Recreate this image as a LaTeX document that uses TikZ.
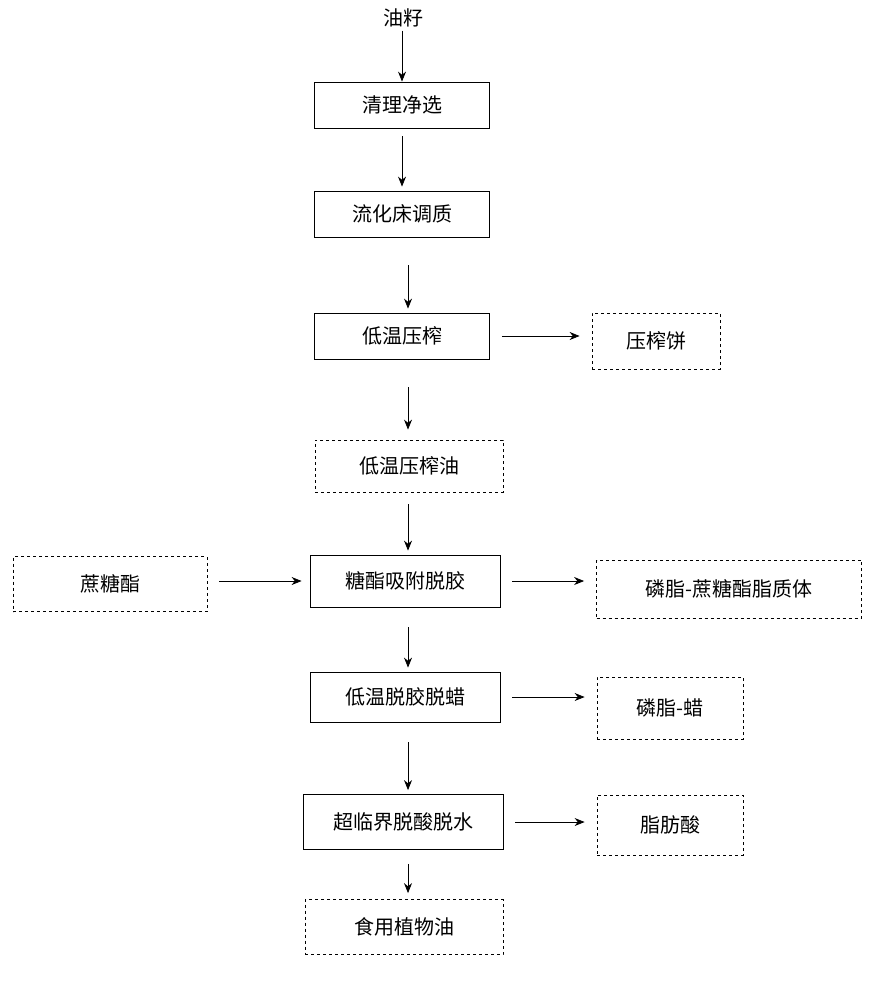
\documentclass[tikz,border=0pt]{standalone}
\usepackage{fontspec}
\usetikzlibrary{arrows.meta}
\setmainfont{Noto Sans CJK SC}
\begin{document}
\begin{tikzpicture}[x=1pt,y=-1pt,
 bx/.style={draw,thick,minimum height=46pt,inner sep=0pt,font=\fontsize{20}{22}\selectfont},
 dbx/.style={bx,dashed},
 ar/.style={-{Stealth[length=10pt,width=8pt]},thick}]
\useasboundingbox (0,0) rectangle (879,1000);
\node[font=\fontsize{20}{22}\selectfont] (s) at (403,18) {油籽};
\node[bx,minimum width=175pt] (a) at (402,105) {清理净选};
\node[bx,minimum width=175pt] (b) at (402,214) {流化床调质};
\node[bx,minimum width=175pt] (c) at (402,336) {低温压榨};
\node[dbx,minimum width=128pt,minimum height=56pt] (c2) at (656,341) {压榨饼};
\node[dbx,minimum width=188pt,minimum height=52pt] (d) at (409,466) {低温压榨油};
\node[dbx,minimum width=194pt,minimum height=55pt] (e0) at (110,584) {蔗糖酯};
\node[bx,minimum width=190pt,minimum height=52pt] (e) at (405,581) {糖酯吸附脱胶};
\node[dbx,minimum width=265pt,minimum height=58pt] (e2) at (729,589) {磷脂-蔗糖酯脂质体};
\node[bx,minimum width=190pt,minimum height=50pt] (f) at (405,697) {低温脱胶脱蜡};
\node[dbx,minimum width=146pt,minimum height=62pt] (f2) at (670,708) {磷脂-蜡};
\node[bx,minimum width=200pt,minimum height=55pt] (g) at (403,822) {超临界脱酸脱水};
\node[dbx,minimum width=146pt,minimum height=60pt] (g2) at (670,825) {脂肪酸};
\node[dbx,minimum width=198pt,minimum height=55pt] (h) at (404,927) {食用植物油};
\draw[ar] (s.south -| a.north) -- (a.north);
\draw[ar] ([yshift=-8pt]a.south) -- ([yshift=4pt]b.north);
\draw[ar] ([yshift=-28pt]b.south -| 408,0) -- ([yshift=4pt]c.north -| 408,0);
\draw[ar] ([yshift=-28pt]c.south -| 408,0) -- ([yshift=10pt]d.north -| 408,0);
\draw[ar] ([yshift=-12pt]d.south -| 408,0) -- ([yshift=4pt]e.north -| 408,0);
\draw[ar] ([yshift=-20pt]e.south -| 408,0) -- ([yshift=4pt]f.north -| 408,0);
\draw[ar] ([yshift=-20pt]f.south -| 408,0) -- ([yshift=4pt]g.north -| 408,0);
\draw[ar] ([yshift=-14pt]g.south -| 408,0) -- ([yshift=6pt]h.north -| 408,0);
\draw[ar] ([xshift=12pt]c.east) -- ([xshift=-12pt]c.east -| c2.west);
\draw[ar] ([xshift=12pt]e0.east |- e.east) -- ([xshift=-8pt]e.west);
\draw[ar] ([xshift=12pt]e.east) -- ([xshift=-12pt]e.east -| e2.west);
\draw[ar] ([xshift=12pt]f.east) -- ([xshift=-12pt]f.east -| f2.west);
\draw[ar] ([xshift=12pt]g.east) -- ([xshift=-12pt]g.east -| g2.west);
\end{tikzpicture}
\end{document}
